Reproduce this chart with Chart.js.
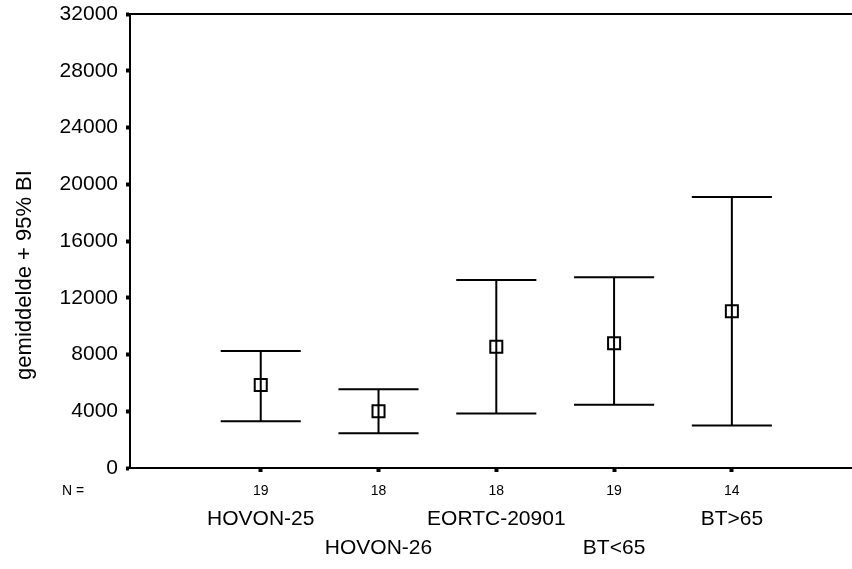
<!DOCTYPE html>
<html>
<head>
<meta charset="utf-8">
<script src="https://cdn.jsdelivr.net/npm/chart.js@4.4.0/dist/chart.umd.min.js"></script>
<style>
  html, body { margin: 0; padding: 0; background: #fff; }
  #wrap { width: 852px; height: 569px; }
</style>
</head>
<body>
<div id="wrap"><canvas id="myChart" width="852" height="569"></canvas></div>
<script>
const groups = ["HOVON-25", "HOVON-26", "EORTC-20901", "BT<65", "BT>65"];
const counts = [19, 18, 18, 19, 14];
const means = [5850, 4000, 8550, 8800, 11050];
const lower = [3300, 2450, 3850, 4450, 3000];
const upper = [8250, 5550, 13250, 13450, 19100];
const yTicks = [0, 4000, 8000, 12000, 16000, 20000, 24000, 28000, 32000];
const yTitle = "gemiddelde + 95% BI";

const FONT = "'Liberation Sans', Arial, sans-serif";

const errorBars = {
  id: "errorBars",
  afterDatasetsDraw(chart) {
    const ctx = chart.ctx;
    const x = chart.scales.x;
    const y = chart.scales.y;
    const half = x.getPixelForValue(1.34) - x.getPixelForValue(1);
    ctx.save();
    ctx.strokeStyle = "#000";
    ctx.lineWidth = 2;
    for (let i = 0; i < groups.length; i++) {
      const px = x.getPixelForValue(i + 1);
      const top = y.getPixelForValue(upper[i]);
      const bot = y.getPixelForValue(lower[i]);
      ctx.beginPath();
      ctx.moveTo(px, top); ctx.lineTo(px, bot);
      ctx.moveTo(px - half, top); ctx.lineTo(px + half, top);
      ctx.moveTo(px - half, bot); ctx.lineTo(px + half, bot);
      ctx.stroke();
    }
    // top frame line
    const area = chart.chartArea;
    ctx.beginPath();
    ctx.moveTo(area.left, area.top);
    ctx.lineTo(chart.width, area.top);
    ctx.stroke();
    ctx.restore();
  },
  afterDraw(chart) {
    const ctx = chart.ctx;
    const x = chart.scales.x;
    const base = chart.chartArea.bottom;
    ctx.save();
    ctx.fillStyle = "#000";
    ctx.textAlign = "center";
    ctx.textBaseline = "middle";
    ctx.font = "14px " + FONT;
    ctx.fillText("N =", 73, base + 23);
    for (let i = 0; i < groups.length; i++) {
      const px = x.getPixelForValue(i + 1);
      ctx.font = "14px " + FONT;
      ctx.fillText(String(counts[i]), px, base + 23);
      ctx.font = "21px " + FONT;
      ctx.fillText(groups[i], px, base + (i % 2 === 0 ? 51 : 80));
    }
    // y axis title
    ctx.translate(25, 275);
    ctx.rotate(-Math.PI / 2);
    ctx.font = "22px " + FONT;
    ctx.fillText(yTitle, 0, 0);
    ctx.restore();
  }
};

const config = {
  type: "scatter",
  data: {
    datasets: [
      {
        data: means.map((m, i) => ({ x: i + 1, y: m })),
        pointStyle: "rect",
        pointRadius: 8.5,
        pointBorderWidth: 2,
        borderColor: "#000",
        backgroundColor: "rgba(0,0,0,0)",
      },
    ],
  },
  options: {
    responsive: false,
    animation: false,
    layout: {
      autoPadding: false,
      padding: { top: 14, right: 0, left: 0, bottom: 0 },
    },
    plugins: {
      legend: { display: false },
      tooltip: { enabled: false },
    },
    scales: {
      x: {
        type: "linear",
        min: -0.11,
        max: 6.02,
        afterFit(scale) {
          scale.height = 101;
          scale.paddingLeft = 0;
          scale.paddingRight = 0;
        },
        border: { display: true, color: "#000", width: 2 },
        grid: {
          drawOnChartArea: false,
          drawTicks: true,
          tickLength: 4,
          tickWidth: 4,
          tickColor: "#000",
        },
        ticks: {
          callback: () => "",
        },
        afterBuildTicks(scale) {
          scale.ticks = groups.map((g, i) => ({ value: i + 1 }));
        },
      },
      y: {
        min: 0,
        max: 32000,
        afterFit(scale) {
          scale.width = 130;
          scale.paddingTop = 0;
          scale.paddingBottom = 0;
        },
        afterBuildTicks(scale) {
          scale.ticks = yTicks.map((v) => ({ value: v }));
        },
        border: { display: true, color: "#000", width: 2 },
        grid: {
          drawOnChartArea: false,
          drawTicks: true,
          tickLength: 4,
          tickWidth: 4,
          tickColor: "#000",
        },
        ticks: {
          color: "#000",
          padding: 8,
          font: { size: 21, family: FONT },
          callback: (v) => String(v),
        },
      },
    },
  },
  plugins: [errorBars],
};

const ctx = document.getElementById("myChart");
const chart = new Chart(ctx, config);
</script>
</body>
</html>
